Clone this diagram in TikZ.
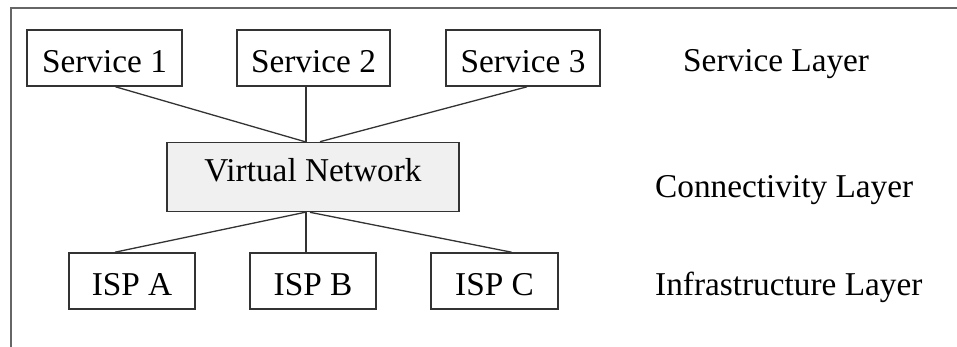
\documentclass[tikz,border=0pt]{standalone}
\usepackage{fontspec}
\setmainfont{Liberation Serif}
\begin{document}
\begin{tikzpicture}[x=1pt,y=-1pt,
  box/.style={draw=black!80, line width=1.6pt, rectangle, inner sep=0pt,
    minimum height=56pt, text height=29pt, text depth=0pt,
    font=\fontsize{33.3}{40}\selectfont},
  vnbox/.style={box, fill=black!6, minimum height=69pt, minimum width=292pt,
    text height=23pt, text depth=13pt},
  link/.style={draw=black!80, line width=1.3pt},
  layer/.style={anchor=base west, inner sep=0pt, font=\fontsize{33.3}{40}\selectfont}]
  \useasboundingbox (0,0) rectangle (957,347);
  % surrounding frame (only its top and left edges fall inside the page)
  \draw[black!60, line width=1.8pt] (11,347) -- (11,8) -- (957,8);
  % service layer
  \node[box, minimum width=155pt] (s1) at (104.5,58) {Service 1};
  \node[box, minimum width=153pt] (s2) at (313.5,58) {Service 2};
  \node[box, minimum width=154pt] (s3) at (523,58) {Service 3};
  % connectivity layer
  \node[vnbox] (vn) at (313,177) {Virtual Network\hspace{16pt}};
  % infrastructure layer
  \node[box, minimum width=126pt] (ia) at (132,281) {ISP A};
  \node[box, minimum width=126pt] (ib) at (313,281) {ISP B};
  \node[box, minimum width=127pt] (ic) at (494.5,281) {ISP C};
  % links between layers
  \draw[link] ([xshift=11pt]s1.south) -- ([xshift=-8pt]vn.north);
  \draw[link] ([xshift=-7.5pt]s2.south) -- ([xshift=-7pt]vn.north);
  \draw[link] ([xshift=4pt]s3.south) -- ([xshift=7pt]vn.north);
  \draw[link] ([xshift=-8pt]vn.south) -- ([xshift=-17pt]ia.north);
  \draw[link] ([xshift=-7pt]vn.south) -- ([xshift=-7pt]ib.north);
  \draw[link] ([xshift=-3pt]vn.south) -- ([xshift=17pt]ic.north);
  % layer captions
  \node[layer] (ls) at (683,72) {Service Layer};
  \node[layer] (lc) at (655,198) {Connectivity Layer};
  \node[layer] (li) at (655,295) {Infrastructure Layer};
\end{tikzpicture}
\end{document}
